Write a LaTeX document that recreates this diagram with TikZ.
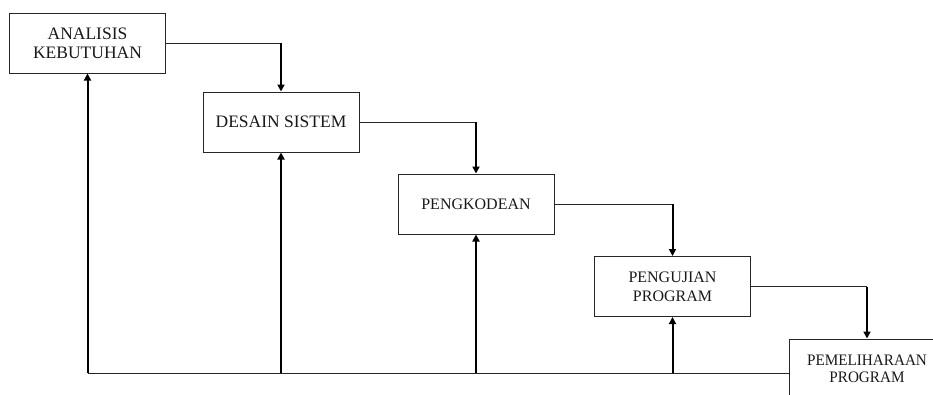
\documentclass[tikz,border=0pt]{standalone}
\usepackage{fontspec}
\setmainfont{Liberation Serif}
\usetikzlibrary{arrows.meta}
\begin{document}
\begin{tikzpicture}[x=1pt,y=-1pt,
  stagebox/.style={draw=black!85,line width=1pt,minimum width=156pt,minimum height=60pt,
    align=center,inner sep=0pt,text=black!90,font=\fontsize{17.5}{19}\selectfont},
  smalltext/.style={font=\fontsize{16}{19}\selectfont},
  thinline/.style={draw=black!85,line width=1pt},
  flowarrow/.style={draw=black,line width=2pt,-{Triangle[width=7pt,length=7pt]}},
]
\clip (0,0) rectangle (933,394);
\useasboundingbox (0,0) rectangle (933,394);
\fill[white] (0,0) rectangle (933,394);

\node[stagebox] (b1) at (87.5,43) {ANALISIS\\KEBUTUHAN};
\node[stagebox] (b2) at (281,122) {DESAIN SISTEM};
\node[stagebox,smalltext] (b3) at (476,204) {PENGKODEAN};
\node[stagebox,smalltext] (b4) at (672.5,286.5) {PENGUJIAN\\PROGRAM};
\node[stagebox,font=\fontsize{16}{17}\selectfont] (b5) at (867,369) {\scalebox{0.95}[1]{PEMELIHARAAN}\\\scalebox{0.95}[1]{PROGRAM}};

% forward connectors
\coordinate (c12) at (b2.north |- b1.east);
\coordinate (c23) at (b3.north |- b2.east);
\coordinate (c34) at (b4.north |- b3.east);
\coordinate (c45) at (b5.north |- b4.east);
\draw[thinline] (b1.east) -- (c12);
\draw[flowarrow] (c12) -- (b2.north);
\draw[thinline] (b2.east) -- (c23);
\draw[flowarrow] (c23) -- (b3.north);
\draw[thinline] (b3.east) -- (c34);
\draw[flowarrow] (c34) -- (b4.north);
\draw[thinline] (b4.east) -- (c45);
\draw[flowarrow] (c45) -- (b5.north);

% feedback line
\coordinate (base) at (86,373);
\coordinate (f1) at (b1.south |- base);
\coordinate (f2) at (b2.south |- base);
\coordinate (f3) at (b3.south |- base);
\coordinate (f4) at (b4.south |- base);
\draw[thinline] (f1) -- (base -| b5.west);
\draw[flowarrow] (f1) -- (b1.south);
\draw[flowarrow] (f2) -- (b2.south);
\draw[flowarrow] (f3) -- (b3.south);
\draw[flowarrow] (f4) -- (b4.south);
\end{tikzpicture}
\end{document}
